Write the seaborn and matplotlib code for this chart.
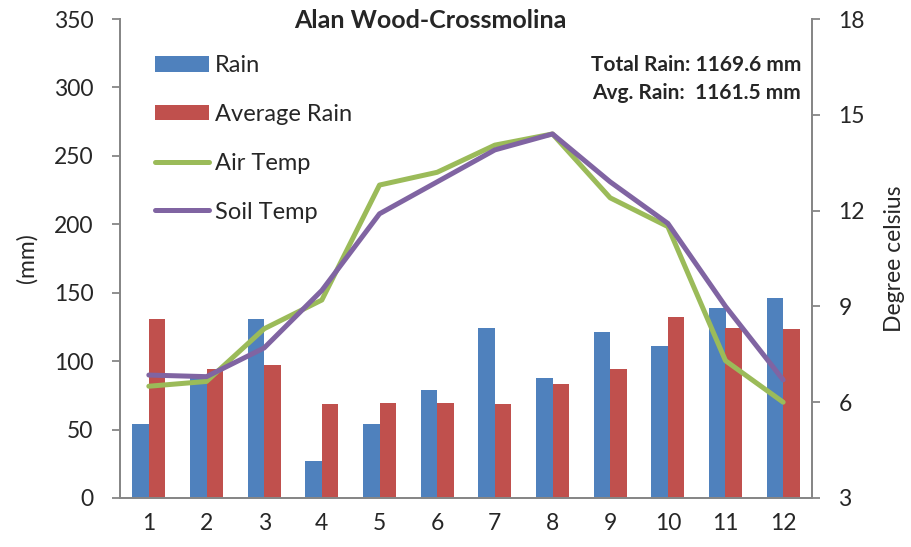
import numpy as np
import pandas as pd
import matplotlib
matplotlib.use("Agg")
import matplotlib.pyplot as plt
import seaborn as sns

months = list(range(1, 13))
rain = [54, 90, 131, 27, 54, 79, 124, 88, 121, 111, 139, 146]
avg_rain = [130.5, 94.5, 97, 69, 69.5, 69.5, 69, 83, 94.5, 132, 124, 123.5]
air_temp = [6.5, 6.65, 8.3, 9.2, 12.8, 13.2, 14.05, 14.4, 12.4, 11.5, 7.3, 6.0]
soil_temp = [6.85, 6.8, 7.7, 9.5, 11.9, 12.9, 13.9, 14.4, 12.9, 11.6, 9.0, 6.7]
mm_ticks = list(range(0, 351, 50))
deg_ticks = [3, 6, 9, 12, 15, 18]

sns.set_style("white")
plt.rcParams["font.family"] = ["Lato", "DejaVu Sans"]
grey = "#868686"
fs = 16.5

df_rain = pd.DataFrame({
    "Month": months * 2,
    "mm": rain + avg_rain,
    "Series": ["Rain"] * 12 + ["Average Rain"] * 12,
})
df_temp = pd.DataFrame({
    "Month": months * 2,
    "deg": air_temp + soil_temp,
    "Series": ["Air Temp"] * 12 + ["Soil Temp"] * 12,
})

fig = plt.figure(figsize=(9.11, 5.47), dpi=100)
ax = fig.add_axes([120 / 911, 49 / 547, 692 / 911, 479 / 547])

sns.barplot(data=df_rain, x="Month", y="mm", hue="Series", native_scale=True,
            palette=["#4F81BD", "#C0504D"], saturation=1, width=0.57, gap=0,
            linewidth=0, ax=ax)
ax2 = ax.twinx()
sns.lineplot(data=df_temp, x="Month", y="deg", hue="Series",
             palette=["#9BBB59", "#8064A2"], linewidth=3.6, ax=ax2,
             solid_capstyle="round")

ax.set_xlim(0.5, 12.5)
ax.set_ylim(0, 350)
ax2.set_ylim(3, 18)
ax.set_yticks(mm_ticks)
ax2.set_yticks(deg_ticks)
ax.set_xticks(months)
ax.set_xticklabels([str(m) for m in months])
ax.set_xticks(np.arange(0.5, 13, 1), minor=True)

for a in (ax, ax2):
    a.spines["top"].set_visible(False)
    for s in ("left", "right", "bottom"):
        a.spines[s].set_color(grey)
        a.spines[s].set_linewidth(1.3)
ax.tick_params(axis="x", which="major", length=0, pad=11, labelsize=fs)
ax.tick_params(axis="x", which="minor", length=6, width=1.3, color=grey, direction="out")
ax.tick_params(axis="y", length=6, width=1.3, color=grey, direction="out", pad=13,
               labelsize=fs, left=True)
ax2.tick_params(axis="y", length=6, width=1.3, color=grey, direction="out", pad=13,
                labelsize=fs, right=True)

ax.set_xlabel("")
ax.set_ylabel("(mm)", fontsize=fs, labelpad=12)
ax2.set_xlabel("")
ax2.set_ylabel("Degree celsius", fontsize=fs, labelpad=14)

h1, l1 = ax.get_legend_handles_labels()
h2, l2 = ax2.get_legend_handles_labels()
if ax.get_legend():
    ax.get_legend().remove()
if ax2.get_legend():
    ax2.get_legend().remove()
leg = ax2.legend(h1 + h2, l1 + l2, loc="upper left",
                 bbox_to_anchor=(155 / 911, 1 - 55 / 547), bbox_transform=fig.transFigure,
                 frameon=False, fontsize=17, handlelength=2.3, handleheight=0.65,
                 handletextpad=0.25, labelspacing=1.18, borderpad=0, borderaxespad=0)

fig.text(430 / 911, 1 - 20 / 547, "Alan Wood-Crossmolina", ha="center", va="center",
         fontsize=18, fontweight="bold")
fig.text(801 / 911, 1 - 65 / 547, "Total Rain: 1169.6 mm", ha="right", va="center",
         fontsize=15, fontweight="bold")
fig.text(801 / 911, 1 - 93 / 547, "Avg. Rain:  1161.5 mm", ha="right", va="center",
         fontsize=15, fontweight="bold")

fig.savefig("out.png", dpi=100)
